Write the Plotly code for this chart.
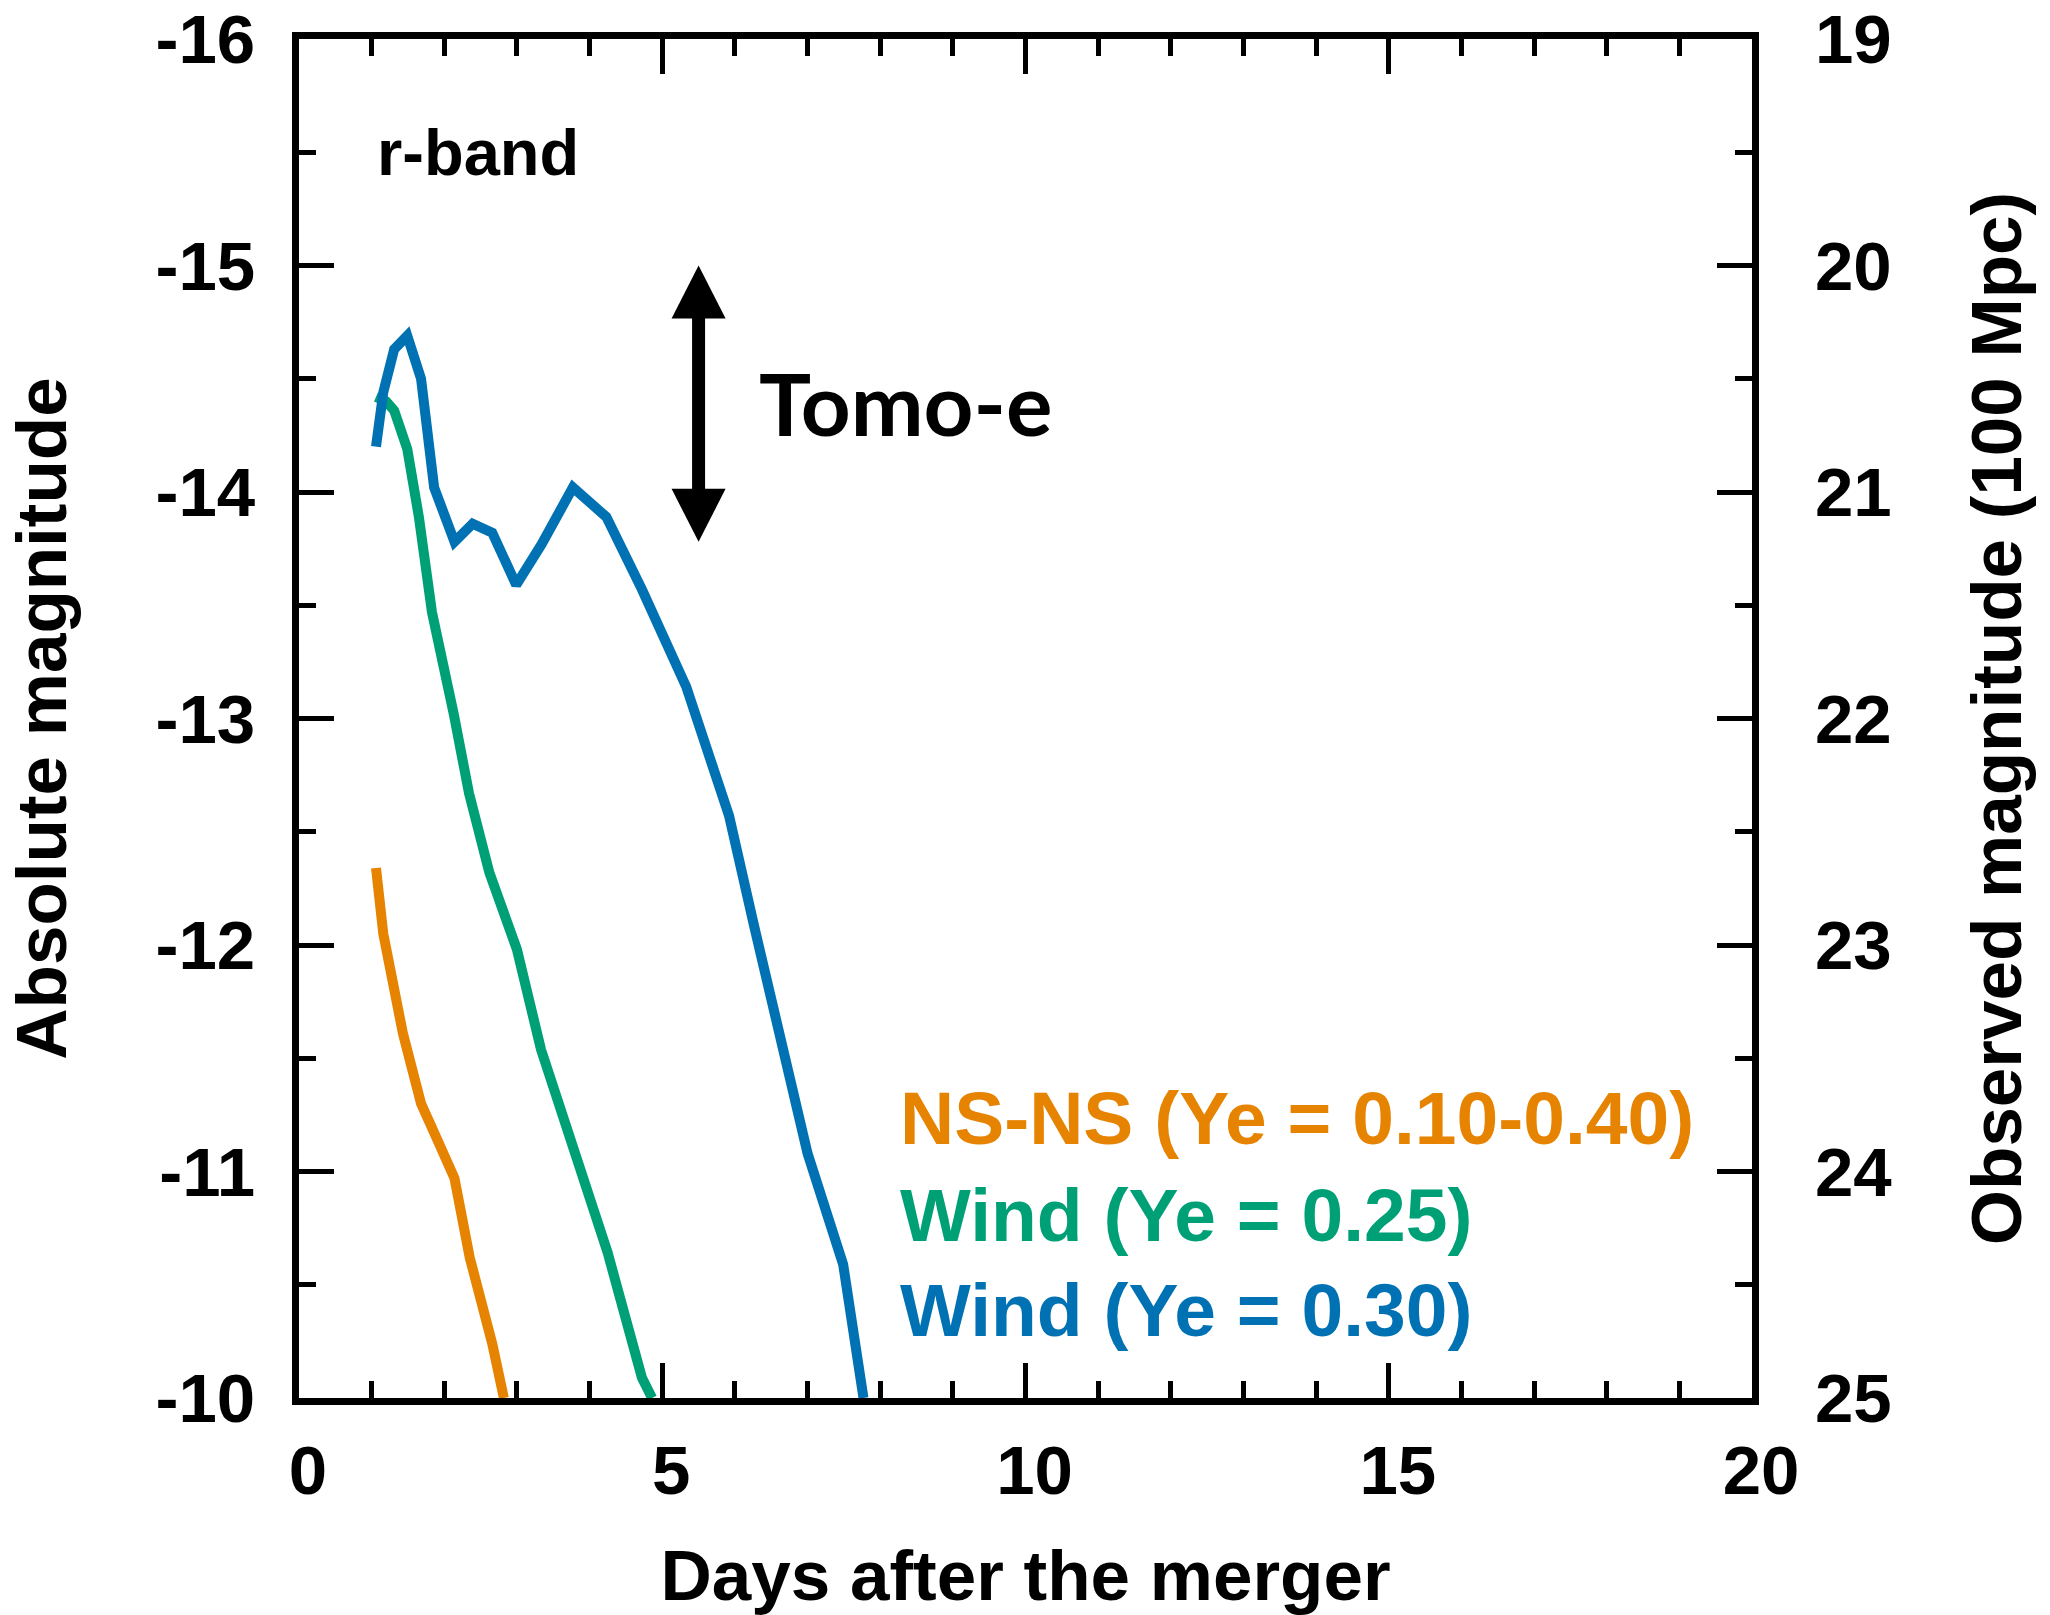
import plotly.graph_objects as go

# r-band light curves: days after merger vs absolute magnitude
days_nsns = [1.06, 1.16, 1.43, 1.68, 1.89, 2.14, 2.35, 2.66, 2.82]
mag_nsns = [-12.34, -12.05, -11.61, -11.30, -11.15, -10.97, -10.62, -10.24, -10.0]

days_wind25 = [1.06, 1.20, 1.31, 1.49, 1.65, 1.83, 2.13, 2.34, 2.62, 3.00,
               3.33, 3.76, 4.25, 4.72, 4.86]
mag_wind25 = [-14.42, -14.40, -14.36, -14.19, -13.89, -13.47, -13.02, -12.67,
              -12.32, -11.98, -11.54, -11.11, -10.64, -10.09, -10.0]

days_wind30 = [1.06, 1.16, 1.31, 1.49, 1.68, 1.86, 2.14, 2.39, 2.66, 2.99,
               3.34, 3.77, 4.23, 4.72, 5.33, 5.92, 6.26, 6.69, 7.00, 7.49, 7.77]
mag_wind30 = [-14.20, -14.44, -14.63, -14.69, -14.50, -14.02, -13.78, -13.86,
              -13.82, -13.59, -13.77, -14.02, -13.89, -13.57, -13.14, -12.57,
              -12.09, -11.50, -11.08, -10.59, -10.0]

series_names = ["NS-NS (Ye = 0.10-0.40)", "Wind (Ye = 0.25)", "Wind (Ye = 0.30)"]
series_colors = ["#E68300", "#00A077", "#0072B4"]

# Tick labels
x_tickvals = [0, 5, 10, 15, 20]
x_ticktext = ["0", "5", "10", "15", "20"]
abs_tickvals = [-16, -15, -14, -13, -12, -11, -10]
abs_ticktext = ["-16", "-15", "-14", "-13", "-12", "-11", "-10"]
obs_tickvals = [19, 20, 21, 22, 23, 24, 25]
obs_ticktext = ["19", "20", "21", "22", "23", "24", "25"]

# Tomo-e depth range (absolute magnitude)
tomoe_bright, tomoe_faint = -15.0, -13.78
tomoe_x = 5.5

FONT = "Liberation Sans"

fig = go.Figure()
for d, m, name, col in zip([days_nsns, days_wind25, days_wind30],
                           [mag_nsns, mag_wind25, mag_wind30],
                           series_names, series_colors):
    fig.add_trace(go.Scatter(x=d, y=m, mode="lines", name=name,
                             line=dict(color=col, width=10), showlegend=False))

# invisible trace to activate the observed-magnitude axis
fig.add_trace(go.Scatter(x=[None], y=[None], yaxis="y2", showlegend=False,
                         hoverinfo="skip"))

axis_font = dict(family=FONT, size=69, color="black", weight="bold")
title_font = dict(family=FONT, size=71, color="black", weight="bold")

fig.update_layout(
    width=2050, height=1615,
    margin=dict(l=299, r=298, t=39, b=217, autoexpand=False),
    paper_bgcolor="white", plot_bgcolor="white",
    xaxis=dict(
        range=[0, 20], tickvals=x_tickvals, ticktext=x_ticktext,
        ticks="inside", ticklen=35, tickwidth=5, tickcolor="black",
        minor=dict(dtick=1, ticks="inside", ticklen=17, tickwidth=5, tickcolor="black"),
        showline=True, linewidth=7, linecolor="black", mirror="ticks",
        showgrid=False, zeroline=False, automargin=False,
        tickfont=axis_font, ticklabelstandoff=6, ticklabelshift=9,
        title=dict(text="Days after the merger", font=title_font, standoff=68),
    ),
    yaxis=dict(
        range=[-10, -16], tickvals=abs_tickvals, ticktext=abs_ticktext,
        ticks="inside", ticklen=35, tickwidth=5, tickcolor="black",
        minor=dict(dtick=0.5, ticks="inside", ticklen=17, tickwidth=5, tickcolor="black"),
        showline=True, linewidth=7, linecolor="black", mirror="ticks",
        showgrid=False, zeroline=False, automargin=False,
        tickfont=axis_font, ticklabelstandoff=23,
        title=dict(text="Absolute magnitude", font=title_font, standoff=68),
    ),
    yaxis2=dict(
        range=[25, 19], tickvals=obs_tickvals, ticktext=obs_ticktext,
        overlaying="y", side="right", ticks="", showline=False,
        showgrid=False, zeroline=False, automargin=False,
        tickfont=axis_font, ticklabelstandoff=62,
        title=dict(text="Observed magnitude (100 Mpc)", font=title_font, standoff=80),
    ),
)

annotations = [
    dict(x=1.05, y=-15.5, xref="x", yref="y", text="r-band", showarrow=False,
         xanchor="left", yanchor="middle",
         font=dict(family=FONT, size=65, color="black", weight="bold")),
    dict(x=6.30, y=-14.395, xref="x", yref="y", text="Tomo-e", showarrow=False,
         xanchor="left", yanchor="middle",
         font=dict(family="Lato", size=87, color="black", weight="bold")),
]
for name, col, yy in zip(series_names, series_colors, [-11.236, -10.808, -10.389]):
    annotations.append(dict(x=8.245, y=yy, xref="x", yref="y", text=name,
                            showarrow=False, xanchor="left", yanchor="middle",
                            font=dict(family=FONT, size=75, color=col, weight="bold")))
fig.update_layout(annotations=annotations)

# double-headed arrow marking the Tomo-e range
fig.add_shape(type="rect", xref="x", yref="y", xsizemode="pixel", xanchor=tomoe_x,
              x0=-6.5, x1=6.5, y0=tomoe_bright + 0.1, y1=tomoe_faint - 0.1,
              fillcolor="black", line=dict(width=0))
fig.add_shape(type="path", xref="x", yref="y", xsizemode="pixel", ysizemode="pixel",
              xanchor=tomoe_x, yanchor=tomoe_bright,
              path="M0,0 L-27,-53 L27,-53 Z", fillcolor="black", line=dict(width=0))
fig.add_shape(type="path", xref="x", yref="y", xsizemode="pixel", ysizemode="pixel",
              xanchor=tomoe_x, yanchor=tomoe_faint,
              path="M0,0 L-27,53 L27,53 Z", fillcolor="black", line=dict(width=0))

fig.write_html("out.html")
